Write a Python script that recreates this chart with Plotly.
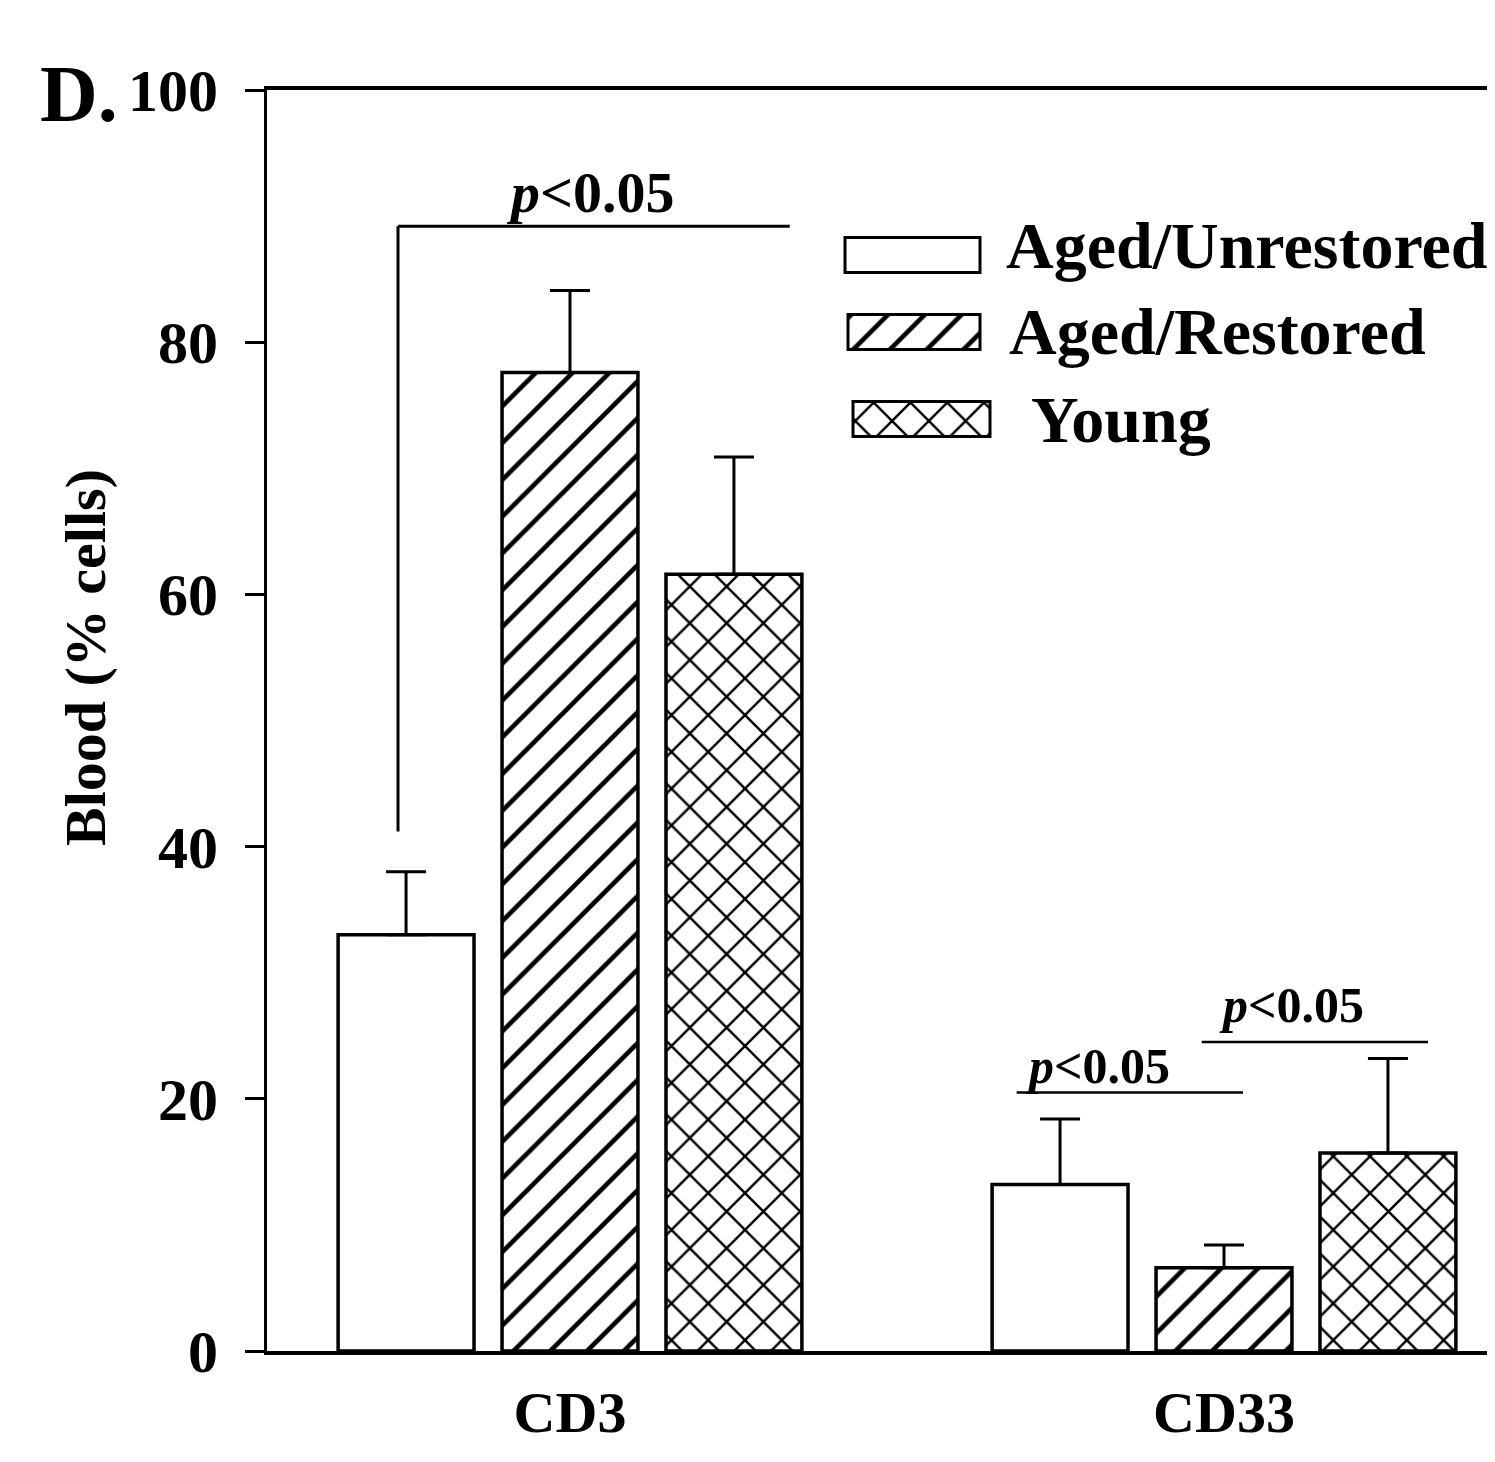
import plotly.graph_objects as go

# ---------------- data ----------------
categories = ["CD3", "CD33"]
groups = ["Aged/Unrestored", "Aged/Restored", "Young"]
means_unrestored = [33.0, 13.2]
means_restored = [77.6, 6.6]
means_young = [61.6, 15.7]
err_unrestored = [5.0, 5.2]
err_restored = [6.5, 1.8]
err_young = [9.3, 7.5]
y_ticks = [0, 20, 40, 60, 80, 100]
sig_label = "<i>p</i>&lt;0.05"

# ---------------- styling ----------------
OFF = 8                      # page body margin of the html page
W, H = 1495, 1462
L, R, T, B = 259, 0, 82, 119
PW, PH = W - L - R, H - T - B
FONT = "Liberation Serif, Times New Roman, serif"
patterns = ["", "/", "x"]


def px_x(p):
    """page pixel -> paper x"""
    return (p - OFF - L) / PW


def px_y(p):
    """page pixel -> paper y"""
    return (H - B - (p - OFF)) / PH


def pattern(shp):
    return dict(shape=shp, fgcolor="black", bgcolor="white", fgopacity=1,
                size=26, solidity=0.18, fillmode="replace")


fig = go.Figure()
series = [(means_unrestored, err_unrestored), (means_restored, err_restored), (means_young, err_young)]
for name, (vals, errs), shp in zip(groups, series, patterns):
    fig.add_trace(go.Bar(
        x=categories, y=vals, name=name, showlegend=False,
        marker=dict(color="white", line=dict(color="black", width=3.5), pattern=pattern(shp)),
        error_y=dict(type="data", array=errs, arrayminus=[0] * len(errs), symmetric=False,
                     color="black", thickness=3, width=20),
    ))

# legend swatches drawn as bars on an overlay axis measured in page pixels
sw_base = [845, 848, 853]
sw_len = [135, 132, 137]
sw_center = [255, 332, 419]
for i, (name, shp) in enumerate(zip(groups, patterns)):
    fig.add_trace(go.Bar(
        x=[sw_len[i]], y=[sw_center[i]], base=[sw_base[i]], orientation="h", width=[35],
        xaxis="x2", yaxis="y2", showlegend=False, hoverinfo="skip",
        marker=dict(color="white", line=dict(color="black", width=3), pattern=pattern(shp)),
    ))

fig.update_layout(
    width=W, height=H,
    margin=dict(l=L, r=R, t=T, b=B),
    paper_bgcolor="white", plot_bgcolor="white",
    barmode="group", bargap=0.248, bargroupgap=0.171,
    font=dict(family=FONT, color="black"),
    xaxis=dict(type="category", range=[-303 / 654.0, (PW - 303) / 654.0],
               showline=True, linecolor="black", linewidth=3.5, mirror=True,
               ticks="", showgrid=False, zeroline=False,
               tickfont=dict(family=FONT, size=58, weight="bold", color="black"),
               ticklabelstandoff=8),
    yaxis=dict(range=[0, 100], tickvals=y_ticks, showline=True, linecolor="black", linewidth=3,
               ticks="outside", ticklen=19, tickwidth=3, tickcolor="black",
               showgrid=False, zeroline=False,
               tickfont=dict(family=FONT, size=60, weight="bold", color="black"),
               ticklabelstandoff=15),
    xaxis2=dict(overlaying="x", range=[L + OFF, L + OFF + PW], visible=False, anchor="y2"),
    yaxis2=dict(overlaying="y", range=[H - B + OFF, T + OFF], visible=False, anchor="x2"),
)

# significance brackets
shape_line = dict(color="black", width=3)
fig.add_shape(type="line", xref="x", yref="y", x0=-0.263, x1=-0.263, y0=41.2, y1=89.2, line=shape_line)
fig.add_shape(type="line", xref="x", yref="y", x0=-0.263, x1=0.336, y0=89.2, y1=89.2, line=shape_line)
fig.add_shape(type="line", xref="x", yref="y", x0=0.683, x1=1.029, y0=20.5, y1=20.5, line=dict(color="black", width=2.5))
fig.add_shape(type="line", xref="x", yref="y", x0=0.966, x1=1.312, y0=24.5, y1=24.5, line=dict(color="black", width=2.5))

fig.add_annotation(x=0.032, y=89.2, xref="x", yref="y", text=sig_label, showarrow=False,
                   xanchor="center", yanchor="bottom", yshift=-1,
                   font=dict(family=FONT, size=58, weight="bold", color="black"))
fig.add_annotation(x=0.807, y=20.5, xref="x", yref="y", text=sig_label, showarrow=False,
                   xanchor="center", yanchor="bottom", yshift=-3,
                   font=dict(family=FONT, size=50, weight="bold", color="black"))
fig.add_annotation(x=1.103, y=24.5, xref="x", yref="y", text=sig_label, showarrow=False,
                   xanchor="center", yanchor="bottom", yshift=7,
                   font=dict(family=FONT, size=50, weight="bold", color="black"))

# legend labels
leg_x = [1004, 1007, 1029]
leg_y = [245, 331, 420]
for name, lx, ly in zip(groups, leg_x, leg_y):
    fig.add_annotation(x=px_x(lx), y=px_y(ly), xref="paper", yref="paper", text=name,
                       showarrow=False, xanchor="left", yanchor="middle",
                       font=dict(family=FONT, size=66, weight="bold", color="black"))

# axis title and panel letter
fig.add_annotation(x=px_x(86), y=px_y(658), xref="paper", yref="paper", text="Blood (% cells)",
                   textangle=-90, showarrow=False, xanchor="center", yanchor="middle",
                   font=dict(family=FONT, size=58, weight="bold", color="black"))
fig.add_annotation(x=px_x(38), y=px_y(94), xref="paper", yref="paper", text="D.",
                   showarrow=False, xanchor="left", yanchor="middle",
                   font=dict(family=FONT, size=80, weight="bold", color="black"))

fig.write_html("out.html")
